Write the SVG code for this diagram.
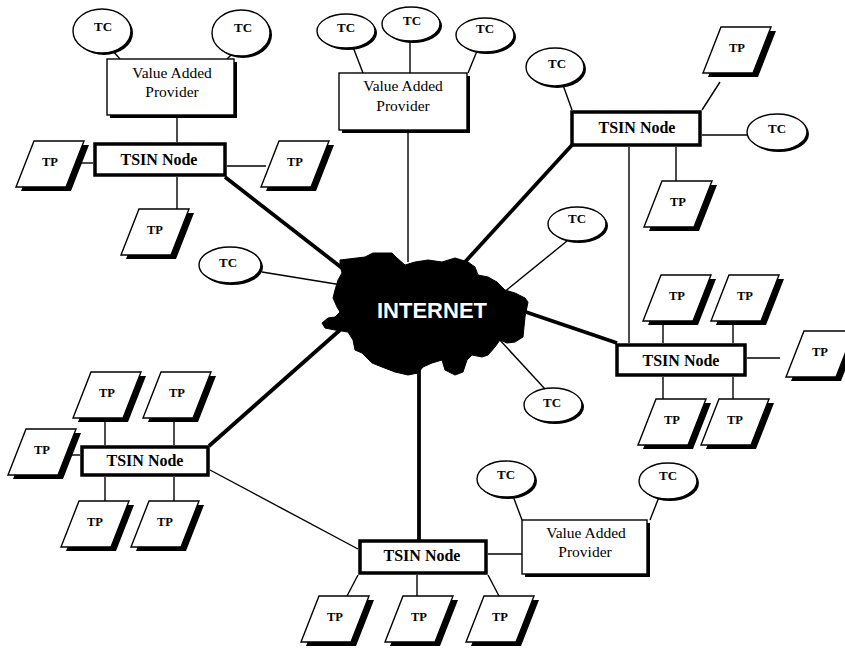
<svg xmlns="http://www.w3.org/2000/svg" xmlns:xlink="http://www.w3.org/1999/xlink" width="845" height="653" viewBox="0 0 845 653">
  <style>
    .thin { stroke: #000; stroke-width: 1.4; fill: none; }
    .thick { stroke: #000; stroke-width: 3.8; fill: none; }
    .lbl { font-family: "Liberation Serif", "Times New Roman", serif; fill: #000; text-anchor: middle; }
    .small { font-size: 12.5px; font-weight: bold; }
    .tc { font-size: 13px; font-weight: bold; }
    .node { font-size: 16px; font-weight: bold; }
    .vap { font-size: 15.5px; }
    .tsin { fill: #fff; stroke: #000; stroke-width: 3.5; }
    .box { fill: #fff; stroke: #000; stroke-width: 1.4; }
    .shadow { fill: #000; }
    .face { fill: #fff; stroke: #000; stroke-width: 1.4; }
  </style>
  <defs>
    <!-- terminal point: skewed card with a drop shadow, centred on its label -->
    <g id="tpShape">
      <polygon class="shadow" points="-9,-17 41,-17 23,29 -27,29"/>
      <polygon class="face" points="-14,-21 36,-21 18,25 -32,25"/>
    </g>
  </defs>

  <rect width="845" height="653" fill="#fff"/>

  <!-- connectors -->
  <g id="connectors">
    <!-- backbone links into the internet cloud -->
    <line class="thick" x1="225" y1="177" x2="342" y2="268"/>
    <line class="thick" x1="572" y1="145" x2="465" y2="262"/>
    <line class="thick" x1="520" y1="310" x2="617" y2="343"/>
    <line class="thick" x1="419" y1="365" x2="419" y2="541"/>
    <line class="thick" x1="340" y1="330" x2="209" y2="446"/>
    <line class="thin" x1="408" y1="133" x2="408" y2="262"/>
    <line class="thin" x1="262" y1="272" x2="342" y2="285"/>
    <line class="thin" x1="567" y1="241" x2="503" y2="293"/>
    <line class="thin" x1="545" y1="389" x2="498" y2="338"/>
    <!-- links between nodes -->
    <line class="thin" x1="629" y1="147" x2="629" y2="343"/>
    <line class="thin" x1="210" y1="470" x2="358" y2="549"/>
    <line class="thin" x1="488" y1="554" x2="522" y2="554"/>
    <!-- top-left cluster -->
    <line class="thin" x1="112" y1="50" x2="120" y2="59"/>
    <line class="thin" x1="233" y1="53" x2="227" y2="59"/>
    <line class="thin" x1="177" y1="116" x2="177" y2="142"/>
    <line class="thin" x1="80" y1="163" x2="93" y2="163"/>
    <line class="thin" x1="227" y1="166" x2="266" y2="166"/>
    <line class="thin" x1="177" y1="177" x2="177" y2="210"/>
    <!-- top-centre provider -->
    <line class="thin" x1="353" y1="47" x2="363" y2="73"/>
    <line class="thin" x1="410" y1="41" x2="410" y2="73"/>
    <line class="thin" x1="477" y1="51" x2="468" y2="73"/>
    <!-- top-right cluster -->
    <line class="thin" x1="563" y1="85" x2="572" y2="110"/>
    <line class="thin" x1="720" y1="82" x2="702" y2="110"/>
    <line class="thin" x1="702" y1="135" x2="747" y2="135"/>
    <line class="thin" x1="676" y1="147" x2="676" y2="182"/>
    <!-- right cluster -->
    <line class="thin" x1="663" y1="320" x2="663" y2="343"/>
    <line class="thin" x1="733" y1="320" x2="733" y2="343"/>
    <line class="thin" x1="663" y1="377" x2="663" y2="399"/>
    <line class="thin" x1="733" y1="377" x2="733" y2="399"/>
    <line class="thin" x1="747" y1="358" x2="780" y2="358"/>
    <!-- bottom-left cluster -->
    <line class="thin" x1="105" y1="418" x2="105" y2="445"/>
    <line class="thin" x1="174" y1="418" x2="174" y2="445"/>
    <line class="thin" x1="105" y1="477" x2="105" y2="501"/>
    <line class="thin" x1="174" y1="477" x2="174" y2="501"/>
    <line class="thin" x1="70" y1="455" x2="80" y2="455"/>
    <!-- bottom cluster -->
    <line class="thin" x1="358" y1="575" x2="347" y2="596"/>
    <line class="thin" x1="417" y1="575" x2="417" y2="596"/>
    <line class="thin" x1="488" y1="575" x2="499" y2="596"/>
    <line class="thin" x1="513" y1="496" x2="522" y2="520"/>
    <line class="thin" x1="659" y1="497" x2="650" y2="520"/>
  </g>

  <!-- internet cloud -->
  <g id="internet">
    <path fill="#000" stroke="#000" stroke-width="1" stroke-linejoin="round" d="M340,260 L365,257 L373,253 L392,253 L397,258 L405,265 L415,262 L428,260 L442,262 L455,258 L468,262 L475,267 L478,275 L488,277 L497,282 L505,290 L515,293 L525,298 L528,302 L525,317 L523,337 L515,342 L507,343 L500,340 L495,347 L488,355 L482,357 L472,355 L467,360 L463,372 L455,375 L445,370 L442,360 L432,363 L423,367 L418,373 L408,375 L395,372 L382,367 L372,363 L362,353 L355,350 L353,340 L348,332 L335,330 L325,328 L322,323 L328,318 L335,317 L340,312 L337,307 L333,298 L335,290 L338,280 L342,273 L340,265 Z"/>
    <text x="432" y="318" font-family="Liberation Sans, Arial, sans-serif" font-size="22" font-weight="bold" fill="#fff" text-anchor="middle">INTERNET</text>
  </g>

  <!-- value added providers -->
  <g id="vap-top-left">
    <rect class="shadow" x="110" y="62" width="127" height="56"/>
    <rect class="box" x="107" y="59" width="127" height="56"/>
    <text class="lbl vap" x="172" y="78">Value Added</text>
    <text class="lbl vap" x="172" y="97">Provider</text>
  </g>
  <g id="vap-top-centre">
    <rect class="shadow" x="342" y="76" width="128" height="57"/>
    <rect class="box" x="339" y="73" width="128" height="57"/>
    <text class="lbl vap" x="403" y="91">Value Added</text>
    <text class="lbl vap" x="403" y="111">Provider</text>
  </g>
  <g id="vap-bottom">
    <rect class="shadow" x="525" y="523" width="125" height="54"/>
    <rect class="box" x="522" y="520" width="125" height="54"/>
    <text class="lbl vap" x="586" y="538">Value Added</text>
    <text class="lbl vap" x="585" y="557">Provider</text>
  </g>

  <!-- TSIN nodes -->
  <g id="tsin-top-left">
    <rect class="tsin" x="95" y="144" width="130" height="31"/>
    <text class="lbl node" x="159" y="165">TSIN Node</text>
  </g>
  <g id="tsin-top-right">
    <rect class="tsin" x="572" y="112" width="128" height="33"/>
    <text class="lbl node" x="637" y="133">TSIN Node</text>
  </g>
  <g id="tsin-right">
    <rect class="tsin" x="617" y="345" width="128" height="30"/>
    <text class="lbl node" x="681" y="366">TSIN Node</text>
  </g>
  <g id="tsin-bottom-left">
    <rect class="tsin" x="82" y="447" width="126" height="28"/>
    <text class="lbl node" x="145" y="466">TSIN Node</text>
  </g>
  <g id="tsin-bottom">
    <rect class="tsin" x="360" y="541" width="126" height="32"/>
    <text class="lbl node" x="422" y="561">TSIN Node</text>
  </g>

  <!-- TC terminals -->
  <g id="tc-1"><ellipse class="shadow" cx="104" cy="33" rx="29" ry="22"/><ellipse class="face" cx="102" cy="31" rx="29" ry="22"/><text class="lbl tc" x="103" y="31">TC</text></g>
  <g id="tc-2"><ellipse class="shadow" cx="243" cy="35" rx="29" ry="23"/><ellipse class="face" cx="241" cy="33" rx="29" ry="23"/><text class="lbl tc" x="243" y="32">TC</text></g>
  <g id="tc-3"><ellipse class="shadow" cx="348" cy="33" rx="29" ry="17"/><ellipse class="face" cx="346" cy="31" rx="29" ry="17"/><text class="lbl tc" x="346" y="32">TC</text></g>
  <g id="tc-4"><ellipse class="shadow" cx="413" cy="26" rx="29" ry="17"/><ellipse class="face" cx="411" cy="24" rx="29" ry="17"/><text class="lbl tc" x="412" y="25">TC</text></g>
  <g id="tc-5"><ellipse class="shadow" cx="487" cy="37" rx="29" ry="17"/><ellipse class="face" cx="485" cy="35" rx="29" ry="17"/><text class="lbl tc" x="485" y="33">TC</text></g>
  <g id="tc-6"><ellipse class="shadow" cx="557" cy="69" rx="29" ry="19"/><ellipse class="face" cx="555" cy="67" rx="29" ry="19"/><text class="lbl tc" x="557" y="68">TC</text></g>
  <g id="tc-7"><ellipse class="shadow" cx="779" cy="134" rx="30" ry="18"/><ellipse class="face" cx="777" cy="132" rx="30" ry="18"/><text class="lbl tc" x="777" y="133">TC</text></g>
  <g id="tc-8"><ellipse class="shadow" cx="579" cy="226" rx="29" ry="17"/><ellipse class="face" cx="577" cy="224" rx="29" ry="17"/><text class="lbl tc" x="577" y="223">TC</text></g>
  <g id="tc-9"><ellipse class="shadow" cx="232" cy="267" rx="31" ry="18"/><ellipse class="face" cx="230" cy="265" rx="31" ry="18"/><text class="lbl tc" x="228" y="267">TC</text></g>
  <g id="tc-10"><ellipse class="shadow" cx="555" cy="407" rx="29" ry="17"/><ellipse class="face" cx="553" cy="405" rx="29" ry="17"/><text class="lbl tc" x="552" y="407">TC</text></g>
  <g id="tc-11"><ellipse class="shadow" cx="508" cy="481" rx="29" ry="18"/><ellipse class="face" cx="506" cy="479" rx="29" ry="18"/><text class="lbl tc" x="506" y="479">TC</text></g>
  <g id="tc-12"><ellipse class="shadow" cx="670" cy="483" rx="29" ry="18"/><ellipse class="face" cx="668" cy="481" rx="29" ry="18"/><text class="lbl tc" x="668" y="480">TC</text></g>

  <!-- TP terminals -->
  <g id="tp-1" transform="translate(48,162)"><use xlink:href="#tpShape"/><text class="lbl small" x="2" y="4">TP</text></g>
  <g id="tp-2" transform="translate(293,162)"><use xlink:href="#tpShape"/><text class="lbl small" x="2" y="4">TP</text></g>
  <g id="tp-3" transform="translate(153,230)"><use xlink:href="#tpShape"/><text class="lbl small" x="2" y="4">TP</text></g>
  <g id="tp-4" transform="translate(735,48)"><use xlink:href="#tpShape"/><text class="lbl small" x="2" y="4">TP</text></g>
  <g id="tp-5" transform="translate(676,202)"><use xlink:href="#tpShape"/><text class="lbl small" x="2" y="4">TP</text></g>
  <g id="tp-6" transform="translate(675,296)"><use xlink:href="#tpShape"/><text class="lbl small" x="2" y="4">TP</text></g>
  <g id="tp-7" transform="translate(743,296)"><use xlink:href="#tpShape"/><text class="lbl small" x="2" y="4">TP</text></g>
  <g id="tp-8" transform="translate(818,352)"><use xlink:href="#tpShape"/><text class="lbl small" x="2" y="4">TP</text></g>
  <g id="tp-9" transform="translate(670,420)"><use xlink:href="#tpShape"/><text class="lbl small" x="2" y="4">TP</text></g>
  <g id="tp-10" transform="translate(733,420)"><use xlink:href="#tpShape"/><text class="lbl small" x="2" y="4">TP</text></g>
  <g id="tp-11" transform="translate(105,393)"><use xlink:href="#tpShape"/><text class="lbl small" x="2" y="4">TP</text></g>
  <g id="tp-12" transform="translate(175,393)"><use xlink:href="#tpShape"/><text class="lbl small" x="2" y="4">TP</text></g>
  <g id="tp-13" transform="translate(40,450)"><use xlink:href="#tpShape"/><text class="lbl small" x="2" y="4">TP</text></g>
  <g id="tp-14" transform="translate(93,522)"><use xlink:href="#tpShape"/><text class="lbl small" x="2" y="4">TP</text></g>
  <g id="tp-15" transform="translate(163,522)"><use xlink:href="#tpShape"/><text class="lbl small" x="2" y="4">TP</text></g>
  <g id="tp-16" transform="translate(333,617)"><use xlink:href="#tpShape"/><text class="lbl small" x="2" y="4">TP</text></g>
  <g id="tp-17" transform="translate(417,617)"><use xlink:href="#tpShape"/><text class="lbl small" x="2" y="4">TP</text></g>
  <g id="tp-18" transform="translate(498,617)"><use xlink:href="#tpShape"/><text class="lbl small" x="2" y="4">TP</text></g>
</svg>
